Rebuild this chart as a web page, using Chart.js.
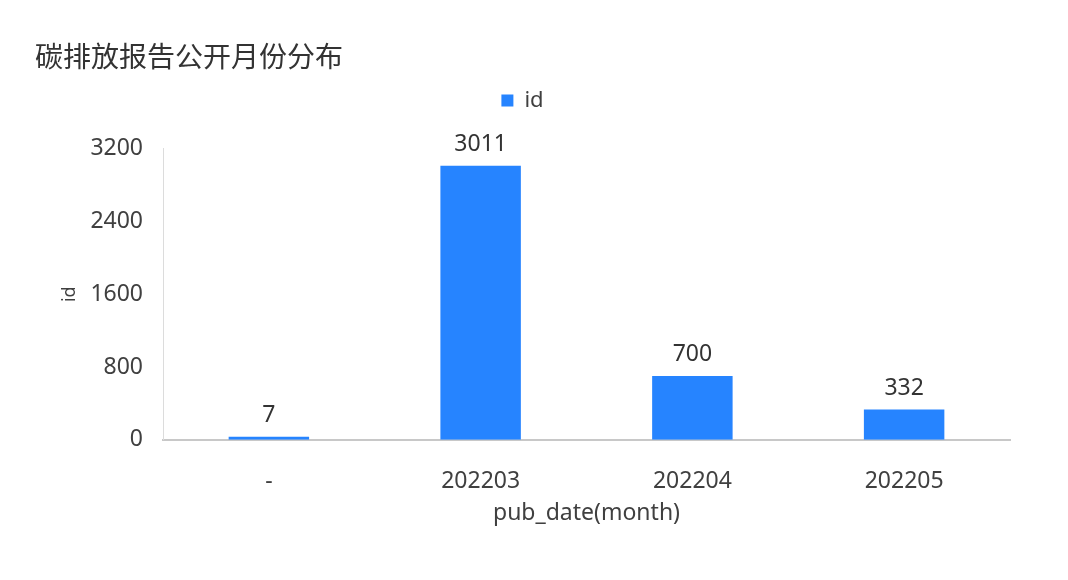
<!DOCTYPE html>
<html>
<head>
<meta charset="utf-8">
<script src="https://cdn.jsdelivr.net/npm/chart.js@4"></script>
<style>
    html, body { margin: 0; padding: 0; background: #fff; }
    #wrap { width: 1068px; height: 580px; }
</style>
</head>
<body>
<div id="wrap"><canvas id="months"></canvas></div>
<script>
const chartTitle = "碳排放报告公开月份分布";
const months = ["-", "202203", "202204", "202205"];
const idCounts = [7, 3011, 700, 332];
const yTicks = [0, 800, 1600, 2400, 3200];
const seriesName = "id";
const xTitle = "pub_date(month)";
const yTitle = "id";

const fontFamily = "'Noto Sans', 'Noto Sans CJK SC', sans-serif";
const textColor = "#404040";

// values drawn above each bar
const barLabels = {
    id: 'barLabels',
    afterDatasetsDraw(chart) {
        const ctx = chart.ctx;
        const meta = chart.getDatasetMeta(0);
        ctx.save();
        ctx.font = "23px " + fontFamily;
        ctx.fillStyle = "#333";
        ctx.textAlign = "center";
        ctx.textBaseline = "bottom";
        meta.data.forEach((bar, idx) => {
            ctx.fillText(String(idCounts[idx]), bar.x, bar.y - 10);
        });
        ctx.restore();
    }
};

// leave some room between the legend and the plot
const legendGap = {
    id: 'legendGap',
    afterInit(chart) {
        const legend = chart.legend;
        if (!legend) return;
        const fit = legend.fit.bind(legend);
        legend.fit = function () {
            fit();
            this.height += 27;
        };
    }
};

new Chart(document.getElementById("months"), {
    type: 'bar',
    data: {
        labels: months,
        datasets: [{
            label: seriesName,
            data: idCounts,
            backgroundColor: "#2684ff",
            borderWidth: 0,
            minBarLength: 3,
            barPercentage: 0.76,
            categoryPercentage: 0.5
        }]
    },
    options: {
        responsive: true,
        maintainAspectRatio: false,
        animation: false,
        layout: {
            padding: { left: 35, right: 58, top: 0, bottom: 53 }
        },
        plugins: {
            title: {
                display: true,
                text: chartTitle,
                align: 'start',
                color: "#333",
                font: { family: fontFamily, size: 28, weight: 'normal' },
                padding: { top: 42, bottom: -25 }
            },
            legend: {
                display: true,
                labels: {
                    color: textColor,
                    font: { family: fontFamily, size: 22 },
                    boxWidth: 12,
                    boxHeight: 12,
                    padding: 39
                }
            },
            tooltip: { enabled: false }
        },
        scales: {
            x: {
                grid: { display: false, drawTicks: false },
                border: { display: true, color: "#c8c8c8", width: 2 },
                ticks: {
                    color: textColor,
                    font: { family: fontFamily, size: 23 },
                    padding: 28
                },
                title: {
                    display: true,
                    text: xTitle,
                    color: textColor,
                    font: { family: fontFamily, size: 23 },
                    padding: { top: -24, bottom: 0 }
                }
            },
            y: {
                min: 0,
                max: 3200,
                afterBuildTicks: (axis) => {
                    axis.ticks = yTicks.map(v => ({ value: v }));
                },
                afterFit: (axis) => {
                    axis.width = 128;
                },
                grid: { display: false, drawTicks: false },
                border: { display: true, color: "#dcdcdc", width: 1 },
                ticks: {
                    color: textColor,
                    font: { family: fontFamily, size: 23 },
                    padding: 20,
                    callback: (v) => String(v)
                },
                title: {
                    display: true,
                    text: yTitle,
                    color: textColor,
                    font: { family: fontFamily, size: 18 },
                    padding: { top: 24, bottom: 0 }
                }
            }
        }
    },
    plugins: [barLabels, legendGap]
});
</script>
</body>
</html>
